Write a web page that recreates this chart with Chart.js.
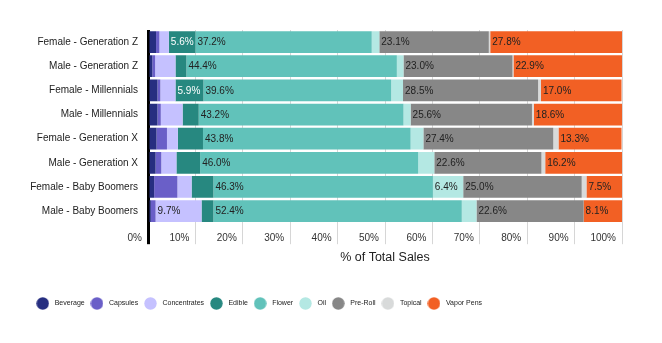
<!DOCTYPE html>
<html>
<head>
<meta charset="utf-8">
<script src="https://cdn.jsdelivr.net/npm/chart.js@4/dist/chart.umd.min.js"></script>
<style>
    html, body { margin: 0; padding: 0; background: #fff; }
    #wrap { width: 662px; height: 343px; }
</style>
</head>
<body>
<div id="wrap"><canvas id="canvasSales"></canvas></div>
<script>
"use strict";

var segments = [
    'Female - Generation Z',
    'Male - Generation Z',
    'Female - Millennials',
    'Male - Millennials',
    'Female - Generation X',
    'Male - Generation X',
    'Female - Baby Boomers',
    'Male - Baby Boomers'
];
var productTypes = ['Beverage', 'Capsules', 'Concentrates', 'Edible', 'Flower', 'Oil', 'Pre-Roll', 'Topical', 'Vapor Pens'];
var xTicks = [0, 10, 20, 30, 40, 50, 60, 70, 80, 90, 100];

// % of total sales, one array per product type, in segment order
var beverage     = [1.7, 0.9, 2.0, 2.0, 1.8, 1.6, 1.3, 0.6];
var capsules     = [0.7, 0.6, 0.6, 0.7, 2.2, 1.2, 4.9, 1.0];
var concentrates = [2.0, 4.3, 3.2, 4.6, 2.3, 3.2, 3.0, 9.7];
var edible       = [5.6, 2.3, 5.9, 3.4, 5.3, 5.0, 4.6, 2.5];
var flower       = [37.2, 44.4, 39.6, 43.2, 43.8, 46.0, 46.3, 52.4];
var oil          = [1.6, 1.4, 2.5, 1.5, 2.7, 3.4, 6.4, 3.1];
var preRoll      = [23.1, 23.0, 28.5, 25.6, 27.4, 22.6, 25.0, 22.6];
var topical      = [0.3, 0.2, 0.6, 0.4, 1.1, 0.8, 1.0, 0.0];
var vaporPens    = [27.8, 22.9, 17.0, 18.6, 13.3, 16.2, 7.5, 8.1];

var seriesValues = [beverage, capsules, concentrates, edible, flower, oil, preRoll, topical, vaporPens];

var barColors = ['#262E80', '#6A5FC8', '#C5C1FF', '#278880', '#61C2BA', '#B4E8E3', '#878787', '#D8DADA', '#F26024'];
var labelColors = ['#fff', '#fff', '#222', '#fff', '#222', '#222', '#222', '#222', '#222'];
var fontFamily = '"Liberation Sans", Arial, sans-serif';

function MakeDot(color) {
    var c = document.createElement('canvas');
    c.width = 13;
    c.height = 13;
    var g = c.getContext('2d');
    g.fillStyle = color;
    g.beginPath();
    g.arc(6.5, 6.5, 6.2, 0, Math.PI * 2);
    g.fill();
    return c;
}

// writes the % on every segment wide enough to hold it
var segmentLabels = {
    id: 'segmentLabels',
    afterDatasetsDraw: function (chart) {
        var ctx = chart.ctx;
        ctx.save();
        ctx.font = '10px ' + fontFamily;
        ctx.textAlign = 'left';
        ctx.textBaseline = 'middle';
        chart.data.datasets.forEach(function (ds, i) {
            var meta = chart.getDatasetMeta(i);
            meta.data.forEach(function (bar, j) {
                var v = ds.data[j];
                if (v < 5.5) return;
                ctx.fillStyle = labelColors[i];
                ctx.fillText(v.toFixed(1) + '%', Math.min(bar.base, bar.x) + 2, bar.y + 0.5);
            });
        });
        ctx.restore();
    }
};

// the left padding is there for the legend; don't let it clip the long category names
var unclipLabels = {
    id: 'unclipLabels',
    afterLayout: function (chart) {
        chart.scales.y.left = 0;
    }
};

function $each(list, fn) {
    for (var i = 0; i < list.length; i++) fn(i, list[i]);
}

var datasets = [];
$each(productTypes, function (index, name) {
    datasets.push({
        label: name,
        data: seriesValues[index],
        backgroundColor: barColors[index],
        borderWidth: 0,
        barPercentage: 0.9,
        categoryPercentage: 1
    });
});

const context = document.getElementById('canvasSales');
const myChart = new Chart(context, {
    type: 'bar',
    data: {
        labels: segments,
        datasets: datasets
    },
    options: {
        indexAxis: 'y',
        responsive: true,
        maintainAspectRatio: false,
        animation: false,
        layout: {
            padding: { top: 30, left: 30.4, right: 40, bottom: 26 }
        },
        scales: {
            x: {
                stacked: true,
                min: 0,
                max: 100,
                afterBuildTicks: function (scale) {
                    scale.ticks = xTicks.map(function (v) { return { value: v }; });
                },
                border: { display: false },
                grid: {
                    color: function (c) { return c.index === 0 ? '#000' : '#d6d6d6'; },
                    lineWidth: function (c) { return c.index === 0 ? 3 : 1; },
                    tickLength: 21
                },
                ticks: {
                    align: 'end',
                    labelOffset: -6,
                    padding: -12,
                    color: '#333',
                    font: { size: 10, family: fontFamily },
                    callback: function (v) { return v + '%'; }
                },
                title: {
                    display: true,
                    text: '% of Total Sales',
                    color: '#222',
                    font: { size: 12.5, family: fontFamily },
                    padding: { top: 18, bottom: 31 }
                }
            },
            y: {
                stacked: true,
                border: { display: false },
                grid: { display: false, drawTicks: false },
                ticks: {
                    padding: 10,
                    color: '#222',
                    font: { size: 10, family: fontFamily }
                },
                afterFit: function (scale) {
                    scale.width = 117.6;
                }
            }
        },
        plugins: {
            tooltip: { enabled: false },
            legend: {
                position: 'bottom',
                align: 'start',
                labels: {
                    usePointStyle: true,
                    pointStyleWidth: 17,
                    padding: 3.8,
                    color: '#222',
                    font: { size: 7, family: fontFamily },
                    generateLabels: function (chart) {
                        var items = Chart.defaults.plugins.legend.labels.generateLabels(chart);
                        items.forEach(function (item, i) {
                            item.pointStyle = MakeDot(barColors[i]);
                        });
                        return items;
                    }
                }
            }
        }
    },
    plugins: [segmentLabels, unclipLabels]
});
</script>
</body>
</html>
